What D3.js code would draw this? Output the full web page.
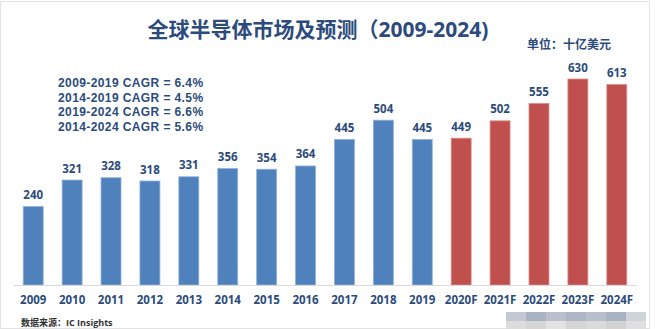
<!DOCTYPE html>
<html><head><meta charset="utf-8">
<script src="https://cdn.jsdelivr.net/npm/d3@7/dist/d3.min.js"></script>
<style>body{margin:0;background:#fff}svg{display:block}</style>
</head><body>
<script>
const categories = ["2009","2010","2011","2012","2013","2014","2015","2016","2017","2018","2019","2020F","2021F","2022F","2023F","2024F"];
const values = [240,321,328,318,331,356,354,364,445,504,445,449,502,555,630,613];
const forecast = [false,false,false,false,false,false,false,false,false,false,false,true,true,true,true,true];
const cagrLines = ["2009-2019 CAGR = 6.4%","2014-2019 CAGR = 4.5%","2019-2024 CAGR = 6.6%","2014-2024 CAGR = 5.6%"];
const title = "全球半导体市场及预测（2009-2024)";
const unitLabel = "单位：十亿美元";
const sourceLabel = "数据来源：IC Insights";

const W = 655, H = 329;
const svg = d3.select("body").append("svg").attr("width", W).attr("height", H);
const font = "'Open Sans','Noto Sans CJK SC',sans-serif";
const textColor = "#2c4b7c";

svg.append("rect").attr("x",0.5).attr("y",1.5).attr("width",W-6).attr("height",H-2)
  .attr("fill","#fff").attr("stroke","#e2e2e2");

const x = d3.scaleBand().domain(categories).range([13.5, 636.5]).paddingInner(0.487).paddingOuter(0.25);
const y = d3.scaleLinear().domain([0, 630]).range([285, 79]);

svg.append("text").attr("x", 318).attr("y", 37).attr("text-anchor","middle")
  .attr("font-family", font).attr("font-weight","bold").attr("font-size", 21)
  .attr("fill", textColor).text(title);

svg.append("text").attr("x", 527).attr("y", 49)
  .attr("font-family", font).attr("font-weight","bold").attr("font-size", 12)
  .attr("fill", textColor).text(unitLabel);

svg.append("g").selectAll("text").data(cagrLines).join("text")
  .attr("x", 58).attr("y", (d,i) => 87 + i*14.6)
  .attr("font-family", "'Liberation Sans',Arial,sans-serif").attr("font-weight","bold").attr("font-size", 12)
  .attr("letter-spacing", 0.4)
  .attr("fill", textColor).text(d => d);

svg.append("g").selectAll("rect").data(values).join("rect")
  .attr("x", (d,i) => x(categories[i]))
  .attr("y", d => y(d))
  .attr("width", x.bandwidth())
  .attr("height", d => y(0) - y(d))
  .attr("fill", (d,i) => forecast[i] ? "#c0504d" : "#4f81bd")
  .attr("stroke", (d,i) => forecast[i] ? "#d98d8b" : "#8fb0d8")
  .attr("stroke-width", 0.8);

svg.append("g").selectAll("text").data(values).join("text")
  .attr("x", (d,i) => x(categories[i]) + x.bandwidth()/2)
  .attr("y", d => y(d) - 7.5)
  .attr("text-anchor","middle")
  .attr("font-family", font).attr("font-weight","bold").attr("font-size", 11.5)
  .attr("fill", textColor).text(d => d);

const axis = d3.axisBottom(x).tickSize(0).tickPadding(11);
const ag = svg.append("g").attr("transform", `translate(0,${y(0)})`).call(axis);
ag.select(".domain").attr("stroke", "#d9d9d9").attr("stroke-width", 1);
ag.selectAll("text").attr("font-family", font).attr("font-weight","bold")
  .attr("font-size", 11.5).attr("fill", textColor);

svg.append("text").attr("x", 21).attr("y", 326)
  .attr("font-family", font).attr("font-weight","bold").attr("font-size", 9)
  .attr("fill", "#333").text(sourceLabel);

// mosaic watermark overlay
const mosaic = [["#c3c8d2","#aab3c3","#b9c0cc","#aeb6c5","#b7bfcb","#a9b2c2","#cfd3da"],
                ["#dcdcdc","#d6d6d6","#e3e3e3","#d5d5d5","#dadada","#d2d2d2","#e0e0e0"]];
const mg = svg.append("g");
mosaic.forEach((row, r) => row.forEach((c, k) => {
  mg.append("rect").attr("x", 506 + k*20).attr("y", 312 + r*9).attr("width", 20).attr("height", 9).attr("fill", c);
}));
</script>
</body></html>
